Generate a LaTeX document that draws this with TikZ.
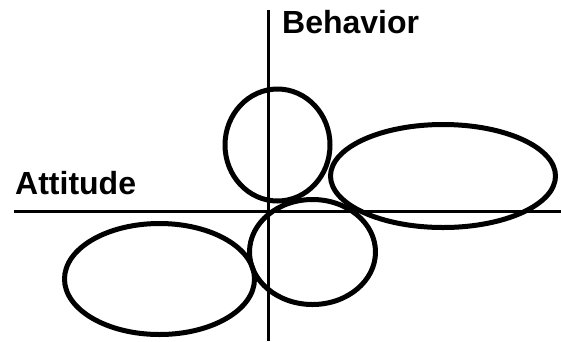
\documentclass[tikz,border=0pt]{standalone}
\usepackage{fontspec}
\setmainfont{Liberation Sans}
\begin{document}
\begin{tikzpicture}[x=1pt,y=-1pt,
  axis/.style={line width=3pt},
  blob/.style={line width=5pt},
  lab/.style={font=\bfseries\fontsize{32}{32}\selectfont, inner sep=0pt, anchor=base west}]
\useasboundingbox (0,0) rectangle (561,341);
\coordinate (vtop) at (268,10);
\coordinate (vbot) at (268,341);
\coordinate (hl) at (14,211);
\coordinate (hr) at (561,211);
\draw[axis] (vtop) -- (vbot);
\draw[axis] (hl) -- (hr);
\draw[blob] (277.5,145) ellipse [x radius=52.5, y radius=56];
\draw[blob] (443,176) ellipse [x radius=112.5, y radius=51.5];
\draw[blob] (312.5,252) ellipse [x radius=63, y radius=52.5];
\draw[blob] (159.5,279) ellipse [x radius=95, y radius=55.5];
\node[lab] (beh) at (282,33) {Behavior};
\node[lab] (att) at (15,194) {Attitude};
\end{tikzpicture}
\end{document}
